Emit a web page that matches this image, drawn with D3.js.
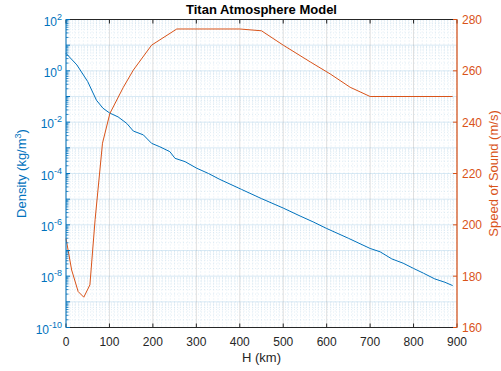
<!DOCTYPE html>
<html>
<head>
<meta charset="utf-8">
<script src="https://cdn.jsdelivr.net/npm/d3@7"></script>
<style>
  body { margin: 0; background: #fff; }
  svg text { font-family: "Liberation Sans", Arial, Helvetica, sans-serif; }
</style>
</head>
<body>
<div id="chart"></div>
<script>
// density profile (blue, left log axis)
const densAlt = [0, 25, 50, 70, 85, 100, 120, 140, 155, 178, 197, 216, 239, 251, 274, 301, 328, 354, 404, 450,
  500, 539, 569, 600, 650, 700, 723, 750, 776, 800, 823, 849, 872, 890];
const density = [4.8, 1.7, 0.38, 0.072, 0.035, 0.023, 0.016, 0.0089, 0.0045, 0.0032, 0.0015, 0.0011, 7.1e-4,
  3.9e-4, 2.9e-4, 1.6e-4, 1.0e-4, 5.9e-5, 2.4e-5, 1.05e-5, 4.5e-6, 2.2e-6, 1.3e-6, 7.2e-7, 3.0e-7, 1.2e-7,
  8.9e-8, 4.7e-8, 3.2e-8, 2.0e-8, 1.3e-8, 7.8e-9, 5.8e-9, 4.3e-9];
// speed of sound profile (orange, right axis)
const soundAlt = [0, 13, 28, 41, 55, 67, 84, 101, 132, 155, 197, 255, 400, 450, 500, 562, 608, 654, 700, 890];
const soundSpeed = [194.7, 182.4, 174, 171.8, 176.6, 202, 231.8, 243.4, 253.6, 260.3, 270, 276.3, 276.3,
  275.6, 270, 263.5, 258.8, 253.6, 250, 250];

const xTicks = [0, 100, 200, 300, 400, 500, 600, 700, 800, 900];
const leftExp = [-10, -8, -6, -4, -2, 0, 2];
const rightTicks = [160, 180, 200, 220, 240, 260, 280];

const W = 501, H = 371;
const pLeft = 66, pRight = 457, pTop = 19.5, pBottom = 327.5;
const blue = '#0072BD', orange = '#D95319', dark = '#262626';

let svg = d3.select('#chart').append('svg')
  .attr('width', W).attr('height', H);

const x = d3.scaleLinear().domain([0, 900]).range([pLeft, pRight]);
const yL = d3.scaleLog().domain([1e-10, 1e2]).range([pBottom, pTop]);
const yR = d3.scaleLinear().domain([160, 280]).range([pBottom, pTop]);

let grid = svg.append('g');
// minor vertical grid
d3.range(0, 901, 10).filter(v => v % 100 !== 0).forEach(v => {
  grid.append('line')
    .attr('x1', x(v)).attr('x2', x(v)).attr('y1', pTop).attr('y2', pBottom)
    .attr('stroke', '#8fbadb').attr('stroke-opacity', 0.45)
    .attr('stroke-width', 0.6).attr('stroke-dasharray', '1,2');
});
// minor horizontal grid (log)
for (let e = -10; e < 2; e++) {
  for (let m = 2; m <= 9; m++) {
    let yy = yL(m * Math.pow(10, e));
    grid.append('line')
      .attr('x1', pLeft).attr('x2', pRight).attr('y1', yy).attr('y2', yy)
      .attr('stroke', '#8fbadb').attr('stroke-opacity', 0.45)
      .attr('stroke-width', 0.6).attr('stroke-dasharray', '1,2');
  }
}
// major grid
xTicks.forEach(v => {
  grid.append('line')
    .attr('x1', x(v)).attr('x2', x(v)).attr('y1', pTop).attr('y2', pBottom)
    .attr('stroke', dark).attr('stroke-opacity', 0.15);
});
d3.range(-10, 3).forEach(e => {
  let yy = yL(Math.pow(10, e));
  grid.append('line')
    .attr('x1', pLeft).attr('x2', pRight).attr('y1', yy).attr('y2', yy)
    .attr('stroke', blue).attr('stroke-opacity', 0.15);
});

// lines
const lineL = d3.line().x((d, i) => x(densAlt[i])).y(d => yL(d));
svg.append('path').datum(density)
  .attr('d', lineL).attr('fill', 'none').attr('stroke', blue).attr('stroke-width', 1);
const lineR = d3.line().x((d, i) => x(soundAlt[i])).y(d => yR(d));
svg.append('path').datum(soundSpeed)
  .attr('d', lineR).attr('fill', 'none').attr('stroke', orange).attr('stroke-width', 1);

// axes
const tl = 4;
let ax = svg.append('g');
ax.append('line').attr('x1', pLeft).attr('x2', pRight).attr('y1', pBottom).attr('y2', pBottom).attr('stroke', dark);
ax.append('line').attr('x1', pLeft).attr('x2', pRight).attr('y1', pTop).attr('y2', pTop).attr('stroke', dark);
xTicks.forEach(v => {
  ax.append('line').attr('x1', x(v)).attr('x2', x(v)).attr('y1', pBottom).attr('y2', pBottom - tl).attr('stroke', dark);
  ax.append('line').attr('x1', x(v)).attr('x2', x(v)).attr('y1', pTop).attr('y2', pTop + tl).attr('stroke', dark);
  ax.append('text').attr('x', x(v)).attr('y', pBottom + 18)
    .attr('text-anchor', 'middle').attr('font-size', 12).attr('fill', dark).text(v);
});
ax.append('line').attr('x1', pLeft).attr('x2', pLeft).attr('y1', pTop).attr('y2', pBottom).attr('stroke', blue);
ax.append('line').attr('x1', pRight).attr('x2', pRight).attr('y1', pTop).attr('y2', pBottom)
  .attr('stroke', orange).attr('stroke-width', 1.5).attr('stroke-opacity', 0.8);

// left log ticks
for (let e = -10; e <= 2; e++) {
  ax.append('line').attr('x1', pLeft).attr('x2', pLeft + tl)
    .attr('y1', yL(Math.pow(10, e))).attr('y2', yL(Math.pow(10, e))).attr('stroke', blue);
  if (e < 2) {
    for (let m = 2; m <= 9; m++) {
      let yy = yL(m * Math.pow(10, e));
      ax.append('line').attr('x1', pLeft).attr('x2', pLeft + 2.5)
        .attr('y1', yy).attr('y2', yy).attr('stroke', blue).attr('stroke-width', 0.8);
    }
  }
}
leftExp.forEach(e => {
  let t = ax.append('text').attr('x', pLeft - 4).attr('y', yL(Math.pow(10, e)) + 6)
    .attr('text-anchor', 'end').attr('font-size', 12).attr('fill', blue);
  t.append('tspan').text('10');
  t.append('tspan').attr('dy', -6).attr('font-size', 9).text(e);
});
rightTicks.forEach(v => {
  ax.append('line').attr('x1', pRight).attr('x2', pRight - tl)
    .attr('y1', yR(v)).attr('y2', yR(v)).attr('stroke', orange);
  ax.append('text').attr('x', pRight + 5).attr('y', yR(v) + 4.5)
    .attr('font-size', 12).attr('fill', orange).text(v);
});

// labels
svg.append('text').attr('x', (pLeft + pRight) / 2).attr('y', 14)
  .attr('text-anchor', 'middle').attr('font-size', 13).attr('font-weight', 'bold')
  .attr('fill', '#000').text('Titan Atmosphere Model');
svg.append('text').attr('x', (pLeft + pRight) / 2).attr('y', 362)
  .attr('text-anchor', 'middle').attr('font-size', 13).attr('fill', dark).text('H (km)');
let yl = svg.append('text').attr('transform', 'translate(26,' + (pTop + pBottom) / 2 + ') rotate(-90)')
  .attr('text-anchor', 'middle').attr('font-size', 13).attr('fill', blue);
yl.append('tspan').text('Density (kg/m');
yl.append('tspan').attr('dy', -5).attr('font-size', 9).text('3');
yl.append('tspan').attr('dy', 5).text(')');
svg.append('text').attr('transform', 'translate(498,' + (pTop + pBottom) / 2 + ') rotate(-90)')
  .attr('text-anchor', 'middle').attr('font-size', 13).attr('fill', orange).text('Speed of Sound (m/s)');
</script>
</body>
</html>
